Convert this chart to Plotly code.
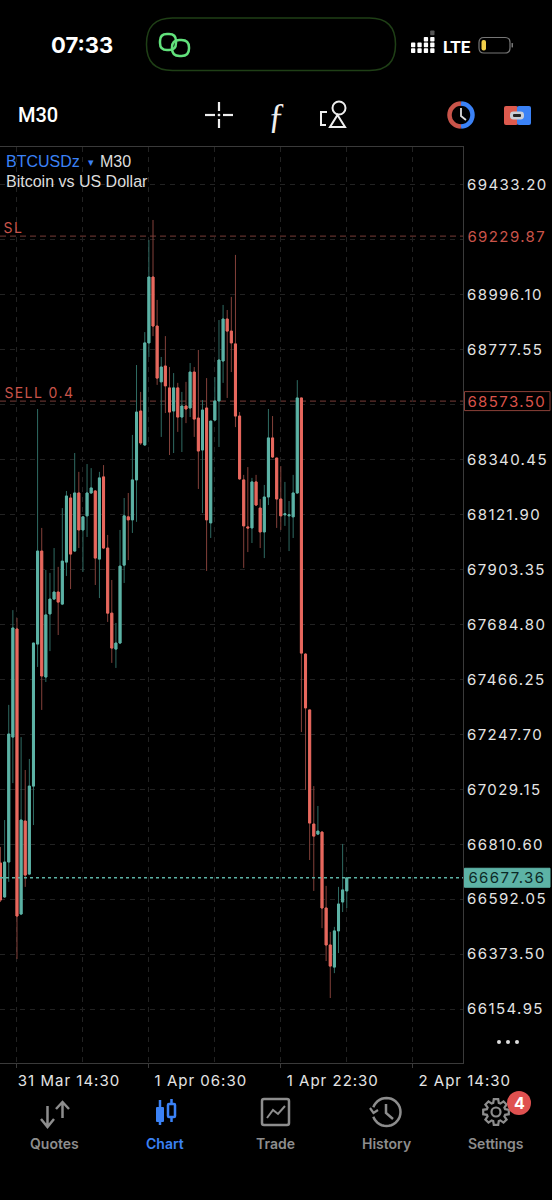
import math
import pandas as pd
import plotly.graph_objects as go

W = 552
H = 1200

# 30 minute bars, first one is 31 Mar 12:30
times = pd.date_range("2024-03-31 12:30", periods=85, freq="30min")

opens = [66736, 66601, 66740, 67237, 67667, 66533, 66903, 66692, 67042, 67607, 67977, 67476, 67727, 67786, 67814, 67766, 67933,
         68188, 67977, 68208, 68061, 68117, 68208, 68216, 67945, 68272, 67989, 67730, 67587, 67611, 67921, 68113, 68101, 68260,
         68534, 68399, 68805, 69067, 68872, 68650, 68713, 68626, 68534, 68626, 68510, 68554, 68546, 68689, 68506, 68379, 68546,
         68089, 68498, 68574, 68733, 68900, 68852, 68801, 68514, 68260, 68073, 68069, 68252, 68148, 68053, 68192, 68427, 68347,
         68184, 68121, 68117, 68113, 68208, 68586, 67567, 67345, 66891, 66851, 66859, 66557, 66410, 66322, 66466, 66581, 66625]
highs = [66800, 66907, 67365, 67742, 67711, 67237, 67106, 67150, 67611, 68542, 68069, 67902, 67890, 67989, 67914, 68148, 68216,
         68204, 68367, 68292, 68113, 68323, 68307, 68220, 68292, 68319, 68041, 67862, 67691, 68061, 68188, 68208, 68439, 68717,
         68610, 68848, 69214, 69294, 68976, 68749, 68832, 68709, 68685, 68646, 68610, 68650, 68725, 68709, 68777, 68578, 68665,
         68494, 68669, 68896, 68956, 68936, 68988, 69155, 68530, 68280, 68311, 68268, 68280, 68184, 68240, 68542, 68514, 68347,
         68315, 68252, 68176, 68280, 68657, 68586, 67571, 67345, 67042, 66963, 66863, 66645, 66462, 66482, 66641, 66812, 66677]
lows = [66581, 66597, 66661, 67054, 66354, 66529, 66641, 66688, 66887, 67516, 67345, 67456, 67579, 67782, 67643, 67762, 67878,
        67826, 67973, 67989, 67894, 68033, 68204, 67842, 67790, 67985, 67695, 67532, 67512, 67607, 67850, 67941, 68049, 68093,
        68399, 68395, 68749, 68832, 68638, 68431, 68526, 68359, 68367, 68451, 68371, 68486, 68510, 68431, 68224, 68128, 67898,
        68029, 68494, 68391, 68646, 68586, 68689, 68470, 68260, 67910, 67973, 68009, 68156, 67989, 67949, 68160, 68347, 68069,
        68061, 68077, 67977, 68029, 68204, 67257, 67027, 66748, 66625, 66847, 66477, 66346, 66199, 66298, 66378, 66541, 66557]
closes = [66589, 66740, 67249, 67671, 66525, 66907, 66688, 67042, 67611, 67977, 67480, 67723, 67786, 67814, 67774, 67937, 68196,
          67965, 68208, 68061, 68113, 68208, 68228, 67949, 68268, 67989, 67730, 67591, 67611, 67917, 68117, 68101, 68260, 68530,
          68407, 68805, 69067, 68872, 68665, 68709, 68634, 68530, 68626, 68510, 68554, 68542, 68689, 68502, 68375, 68538, 68101,
          68494, 68574, 68737, 68900, 68852, 68805, 68514, 68264, 68077, 68069, 68252, 68160, 68053, 68192, 68427, 68351, 68184,
          68117, 68125, 68121, 68208, 68586, 67571, 67353, 66895, 66843, 66863, 66557, 66410, 66326, 66466, 66573, 66629, 66677.36]

price_ticks = [69433.20, 69214.65, 68996.10, 68777.55, 68559.00, 68340.45, 68121.90, 67903.35,
               67684.80, 67466.25, 67247.70, 67029.15, 66810.60, 66592.05, 66373.50, 66154.95]
# these two sit under the SL and SELL price tags
hidden_ticks = [69214.65, 68559.00]

time_ticks = ["2024-03-31 14:30", "2024-04-01 06:30", "2024-04-01 22:30", "2024-04-02 14:30"]
time_labels = ["31 Mar 14:30", "1 Apr 06:30", "1 Apr 22:30", "2 Apr 14:30"]
time_grid = ["2024-03-31 22:30", "2024-04-01 14:30", "2024-04-02 06:30"]

sl_price = 69229.87
sell_price = 68573.50
last_price = 66677.36

TEAL = "#5db3a6"
RED = "#e8685e"
TEAL_DIM = "#2f6b63"
RED_DIM = "#83403a"
GRID = "#222222"
LABEL = "#e4e4e4"
GRAY = "#8d8d8d"
BLUE = "#3b82f6"
FONT = "Inter"


def px(x):
    return x / W


def py(y):
    return 1 - y / H


def path(d):
    # pixel svg path -> paper svg path
    out = []
    is_x = True
    for tok in d.split():
        if tok.isalpha():
            out.append(tok)
            is_x = True
        else:
            out.append(str(round(px(float(tok)) if is_x else py(float(tok)), 5)))
            is_x = not is_x
    return " ".join(out)


def round_rect(x0, y0, x1, y1, r):
    return (f"M {x0+r} {y0} L {x1-r} {y0} Q {x1} {y0} {x1} {y0+r} L {x1} {y1-r} Q {x1} {y1} {x1-r} {y1} "
            f"L {x0+r} {y1} Q {x0} {y1} {x0} {y1-r} L {x0} {y0+r} Q {x0} {y0} {x0+r} {y0} Z")


def arc_line(cx, cy, r, start, stop):
    pts = [(cx + r * math.cos(math.radians(a)), cy + r * math.sin(math.radians(a))) for a in range(start, stop + 1, 10)]
    return "M " + " L ".join(f"{a:.1f} {b:.1f}" for a, b in pts)


shapes = []


def stroke(d, color, width=2):
    shapes.append(dict(type="path", xref="paper", yref="paper", path=path(d), layer="above",
                       line=dict(color=color, width=width), fillcolor="rgba(0,0,0,0)"))


def fill(d, color):
    shapes.append(dict(type="path", xref="paper", yref="paper", path=path(d), layer="above",
                       line=dict(width=0), fillcolor=color))


def circle(cx, cy, r, color, width=2, fillcolor=None):
    shapes.append(dict(type="circle", xref="paper", yref="paper", layer="above",
                       x0=px(cx - r), x1=px(cx + r), y0=py(cy + r), y1=py(cy - r),
                       line=dict(color=color, width=width), fillcolor=fillcolor or "rgba(0,0,0,0)"))


def text(x, y, s, size, color=LABEL, anchor="left", family=FONT, weight=400):
    return dict(xref="paper", yref="paper", x=px(x), y=py(y), text=s, showarrow=False,
                xanchor=anchor, yanchor="middle", font=dict(size=size, color=color, family=family, weight=weight))


fig = go.Figure()

# wicks are thinner and darker than the bodies so they get their own trace
fig.add_trace(go.Candlestick(x=times, open=opens, high=highs, low=lows, close=closes,
                             increasing=dict(line=dict(color=TEAL_DIM, width=1), fillcolor="rgba(0,0,0,0)"),
                             decreasing=dict(line=dict(color=RED_DIM, width=1), fillcolor="rgba(0,0,0,0)"),
                             whiskerwidth=0, hoverinfo="skip", showlegend=False))
fig.add_trace(go.Candlestick(x=times, open=opens, close=closes,
                             high=[max(a, b) for a, b in zip(opens, closes)],
                             low=[min(a, b) for a, b in zip(opens, closes)],
                             increasing=dict(line=dict(color=TEAL, width=1), fillcolor=TEAL),
                             decreasing=dict(line=dict(color=RED, width=1), fillcolor=RED),
                             whiskerwidth=0, showlegend=False))

# order lines
for price in [sl_price, sell_price]:
    shapes.append(dict(type="line", xref="paper", yref="y", x0=0, x1=px(463), y0=price, y1=price,
                       line=dict(color="#7a3d38", width=1, dash="6px,4px"), layer="below"))
shapes.append(dict(type="line", xref="paper", yref="y", x0=0, x1=px(463), y0=last_price, y1=last_price,
                   line=dict(color=TEAL, width=1.5, dash="3px,3px"), layer="above"))

# status bar
stroke(round_rect(146.5, 18, 395.5, 70.5, 26), "#1f3f16", 1.5)
stroke(round_rect(160, 34, 176, 50, 7), "#62e27c", 2.5)
stroke(round_rect(172, 40, 189, 56, 7.5), "#62e27c", 2.5)
for i, n in enumerate([2, 2, 3, 3]):
    x = 411 + i * 6.4
    for k in range(n):
        y = 53 - 5.7 * k
        fill(round_rect(x, y - 4.7, x + 4.3, y, 0.8), "#ffffff")
fill(round_rect(430.2, 30.5, 434.5, 35.2, 0.8), "#555555")
stroke(round_rect(479, 37.5, 510, 53, 5), "#777777", 1.2)
fill(round_rect(481.5, 40, 486, 50.5, 2), "#f2cf4a")
fill(round_rect(511.5, 43, 513, 47.5, 0.5), "#777777")

# toolbar icons
for d in ["M 205 115 L 215 115", "M 223 115 L 233 115", "M 219 102 L 219 111", "M 219 119 L 219 128"]:
    stroke(d, "#eeeeee", 2.2)
fill(round_rect(217.7, 113.7, 220.3, 116.3, 1), "#eeeeee")
stroke("M 327 112 L 321 112 L 321 125 L 326 125", "#eeeeee", 2)
circle(339, 108, 6.5, "#eeeeee", 2)
stroke("M 337.5 115 L 345 127 L 330 127 Z", "#eeeeee", 2)
stroke(arc_line(461, 115, 11.5, 90, 270), "#c9544a", 4.5)
stroke(arc_line(461, 115, 11.5, -90, 90), BLUE, 4.5)
stroke("M 461 108 L 461 116 L 466 120", "#dddddd", 1.8)
fill(round_rect(504, 106, 518, 125, 2), "#dd5a4e")
fill(round_rect(517, 106, 531, 125, 2), BLUE)
fill(round_rect(510, 111.5, 524, 119.5, 3.5), "#c9ced6")
fill(round_rect(513, 114, 521, 117, 1), "#222222")

# tab bar icons
stroke("M 47.5 1106 L 47.5 1127 M 41 1119 L 47.5 1127 L 54 1119", GRAY, 2.5)
stroke("M 62.5 1118 L 62.5 1102 M 56 1109 L 62.5 1102 L 69 1109", GRAY, 2.5)
stroke("M 160 1100 L 160 1125", BLUE, 2.5)
fill(round_rect(156, 1107, 164, 1122, 1), BLUE)
stroke("M 171.5 1099 L 171.5 1103 M 171.5 1118 L 171.5 1122", BLUE, 2.5)
stroke(round_rect(168, 1104, 175, 1117, 1), BLUE, 2.5)
stroke(round_rect(262, 1099, 289, 1125, 2), GRAY, 2.5)
stroke("M 267 1118 L 273 1110 L 278 1114 L 285 1106", GRAY, 2)
# clock with the back arrow
stroke(arc_line(386.5, 1112, 14, -160, 160), GRAY, 2.5)
stroke("M 370 1108 L 373.5 1113 L 378 1110", GRAY, 2.2)
stroke("M 386 1104 L 386 1113 L 393 1119", GRAY, 2.5)
# gear
gear = []
for t in range(8):
    a = t * math.pi / 4
    for da, r in [(-0.30, 9.5), (-0.17, 13), (0.17, 13), (0.30, 9.5)]:
        gear.append((496 + r * math.cos(a + da), 1112 + r * math.sin(a + da)))
stroke("M " + " L ".join(f"{a:.1f} {b:.1f}" for a, b in gear) + " Z", GRAY, 2.2)
circle(496, 1112, 4.5, GRAY, 2.2)
circle(519, 1103, 12, "#df5150", 0, "#df5150")
for cx in [499, 508, 517]:
    circle(cx, 1042, 2, "#dddddd", 0, "#dddddd")

annotations = [
    text(49, 45, "07:33", 22, "#ffffff", weight=700),
    text(441, 47, "LTE", 17, "#ffffff", family="Roboto", weight=700),
    text(16, 115, "M30", 20, "#ffffff", family="Roboto", weight=500),
    text(277, 116, "ƒ", 35, "#eeeeee", anchor="center", family="Liberation Serif"),
    text(4, 161, "BTCUSDz", 16, BLUE, family="Liberation Sans"),
    text(86, 162, "▾", 11, BLUE, family="DejaVu Sans"),
    text(98, 161, "M30", 16, "#dddddd", family="Liberation Sans"),
    text(4, 181, "Bitcoin vs US Dollar", 16, "#dddddd", family="Liberation Sans"),
    text(54.5, 1143, "Quotes", 14, GRAY, "center", weight=600),
    text(165, 1143, "Chart", 14, BLUE, "center", weight=600),
    text(275, 1143, "Trade", 14, GRAY, "center", weight=600),
    text(386, 1143, "History", 14, GRAY, "center", weight=600),
    text(496, 1143, "Settings", 14, GRAY, "center", weight=600),
    text(519, 1103, "4", 16, "#ffffff", "center", weight=700),
]

# labels below get wider tracking, like the app
first_tracked = len(annotations)
annotations.append(text(13.5, 227, "SL", 14, "#c9544a", "center"))
annotations.append(text(39, 392, "SELL 0.4", 14, "#c9544a", "center"))

# price tags on the right edge
for price, color, bg, border in [(sl_price, "#c9544a", None, None),
                                 (sell_price, "#d9534a", "#000000", "#8a4038"),
                                 (last_price, "#0c2a26", TEAL, TEAL)]:
    if bg:
        shapes.append(dict(type="rect", xref="paper", yref="y", x0=px(464.5), x1=px(550), y0=-9.5, y1=9.5,
                           ysizemode="pixel", yanchor=price, fillcolor=bg, layer="above",
                           line=dict(color=border, width=1)))
    annotations.append(dict(xref="paper", yref="y", x=px(507), y=price, text=f"{price:.2f}", showarrow=False,
                            xanchor="center", yanchor="middle", font=dict(size=15, color=color, family=FONT)))

fig.update_layout(
    width=W, height=H,
    margin=dict(l=0, r=0, t=0, b=0, pad=0),
    paper_bgcolor="#000000", plot_bgcolor="#000000",
    showlegend=False,
    shapes=shapes, annotations=annotations,
    xaxis=dict(
        domain=[0, px(463)], type="date", automargin=False,
        range=["2024-03-31 12:26:24", "2024-04-02 20:36"],
        rangeslider=dict(visible=False),
        tickvals=time_ticks, ticktext=time_labels, ticklabelshift=52, tickangle=0,
        ticks="outside", ticklen=4, tickcolor="#3a3a3a",
        tickfont=dict(size=15, color=LABEL, family=FONT),
        showgrid=True, gridcolor=GRID, griddash="5px,5px", gridwidth=1,
        minor=dict(tickvals=time_grid, showgrid=True, gridcolor=GRID, griddash="5px,5px", gridwidth=1),
        showline=True, linecolor="#3a3a3a", linewidth=1, zeroline=False, mirror=True,
    ),
    yaxis=dict(
        domain=[py(1063), py(147)], side="right", automargin=False,
        range=[65940.5, 69584.3],
        tickvals=price_ticks,
        ticktext=["" if p in hidden_ticks else f"{p:.2f}" for p in price_ticks],
        ticks="", tickfont=dict(size=15, color=LABEL, family=FONT),
        showgrid=True, gridcolor=GRID, griddash="5px,5px", gridwidth=1,
        showline=True, linecolor="#3a3a3a", linewidth=1, zeroline=False, mirror=True,
    ),
)

tracked = ",".join(f'.annotation[data-index="{i}"] text' for i in range(first_tracked, len(annotations)))
page_css = (f"body{{margin:0;background:#000}} .ytick text,{tracked}{{letter-spacing:1.4px}} "
            ".xtick text{letter-spacing:1px}")
page_js = f"var s=document.createElement('style');s.textContent='{page_css}';document.head.appendChild(s);"

fig.write_html("out.html", config={"displayModeBar": False}, post_script=page_js)
